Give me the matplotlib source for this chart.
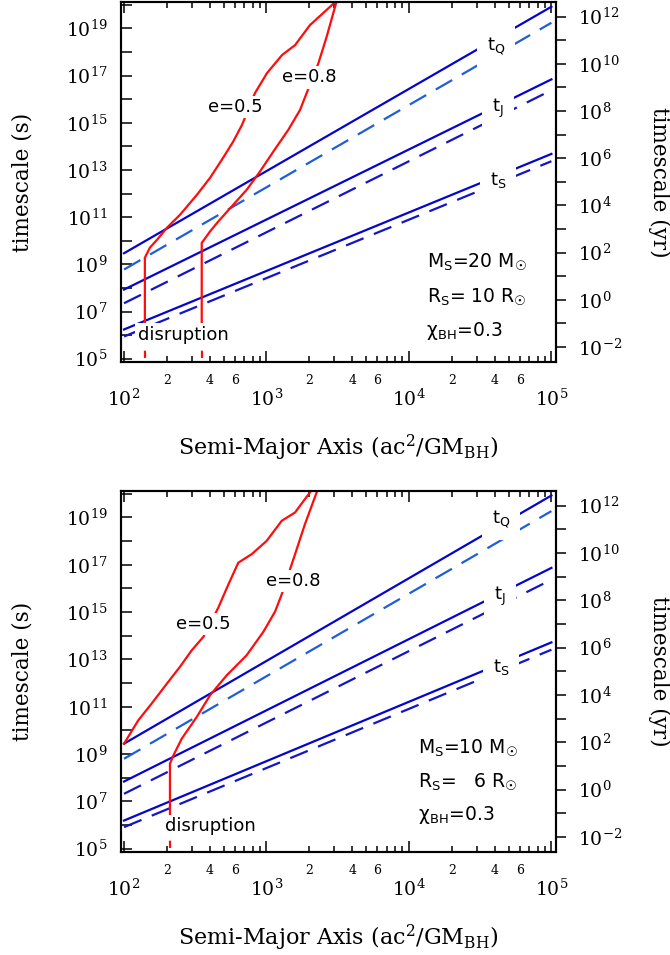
import numpy as np
import matplotlib.pyplot as plt
from matplotlib.ticker import FixedLocator, LogLocator, FuncFormatter, NullLocator

plt.rcParams['font.family'] = 'DejaVu Serif'
plt.rcParams['mathtext.fontset'] = 'dejavuserif'

SEC_PER_YR = 3.156e7

# semi-major axis range spanned by the timescale power laws
a_ends = [1e2, 1e5]

# log10 timescale (s) at a = 1e2 and a = 1e5 -- upper panel (M_S = 20 Msun)
top_tq = [9.47, 19.92]
top_tq_dash = [8.78, 19.24]
top_tj = [7.93, 16.84]
top_tj_dash = [7.35, 16.38]
top_ts = [6.24, 13.68]
top_ts_dash = [5.94, 13.37]

# lower panel (M_S = 10 Msun)
bot_tq = [9.44, 19.93]
bot_tq_dash = [8.80, 19.27]
bot_tj = [7.84, 16.87]
bot_tj_dash = [7.32, 16.37]
bot_ts = [6.19, 13.72]
bot_ts_dash = [5.91, 13.41]

# inspiral curves: semi-major axis and log10 timescale (s)
top_e05_a = [140, 140, 152, 171, 200, 247, 325, 402, 495, 582, 673, 830, 1009, 1285, 1585, 2018, 3027]
top_e05_t = [6.0, 9.28, 9.71, 10.05, 10.55, 11.10, 11.95, 12.67, 13.51, 14.19, 14.91, 16.26, 17.11, 17.87, 18.29, 19.14, 20.11]
top_e08_a = [351, 351, 402, 459, 585, 726, 899, 1117, 1422, 1718, 2312, 2642, 3076]
top_e08_t = [6.0, 9.905, 10.40, 10.82, 11.53, 12.16, 12.93, 13.78, 14.70, 15.54, 17.52, 18.64, 20.06]
top_disrupt = [140, 351]

bot_e05_a = [100, 126, 156, 200, 247, 299, 361, 459, 540, 634, 787, 1002, 1279, 1585, 2018]
bot_e05_t = [9.44, 10.43, 11.13, 11.98, 12.69, 13.39, 13.96, 15.19, 16.17, 17.09, 17.45, 18.01, 18.86, 19.21, 20.06]
bot_e08_a = [210, 210, 222, 254, 324, 402, 526, 726, 951, 1148, 1279, 1585, 1862, 2249]
bot_e08_t = [6.0, 8.59, 8.94, 9.65, 10.57, 11.49, 12.33, 13.18, 14.17, 15.02, 15.75, 17.44, 18.72, 20.06]
bot_disrupt = [210]
disrupt_span = [5.03, 6.0]

# label positions (log10 a, log10 t)
top_tlabels = [(4.61, 18.25), (4.625, 15.59), (4.625, 12.58)]
bot_tlabels = [(4.646, 18.92), (4.64, 15.65), (4.645, 12.69)]
tlabel_text = [r't$_\mathrm{Q}$', r't$_\mathrm{J}$', r't$_\mathrm{S}$']
top_elabels = [(2.779, 15.67), (3.302, 16.92)]
bot_elabels = [(2.558, 14.49), (3.186, 16.31)]
elabel_text = ['e=0.5', 'e=0.8']
top_disrupt_label = (2.098, 6.01)
bot_disrupt_label = (2.288, 5.95)

top_params = [r'M$_\mathrm{S}$=20 M$_\mathrm{☉}$', r'R$_\mathrm{S}$= 10 R$_\mathrm{☉}$', r'$\mathrm{χ}_\mathrm{BH}$=0.3']
bot_params = [r'M$_\mathrm{S}$=10 M$_\mathrm{☉}$', r'R$_\mathrm{S}$=   6 R$_\mathrm{☉}$', r'$\mathrm{χ}_\mathrm{BH}$=0.3']
top_params_pos = [(4.124, 8.85), (4.124, 7.39), (4.118, 5.98)]
bot_params_pos = [(4.065, 9.03), (4.065, 7.59), (4.060, 6.20)]

xlim = (95.2, 1.077e5)
ylim = (10**4.86, 10**20.12)

SOLID = '#0505cc'
DASH_Q = '#1f5ed8'
DASH = '#1414c8'
RED = '#ff0c0c'
DASHES = (0, (8.5, 5))
LW = 1.6


def sans_text(ax, x, y, s, size=13, **kw):
    return ax.text(x, y, s, family='DejaVu Sans', math_fontfamily='dejavusans',
                   fontsize=size, **kw)


def major_x(v, pos):
    return r'$10^{%d}$' % int(round(np.log10(v)))


def minor_x(v, pos):
    mant = v / 10 ** np.floor(np.log10(v) + 1e-9)
    m = int(round(mant))
    return str(m) if m in (2, 4, 6) else ''


def odd_decade(v, pos):
    e = int(round(np.log10(v)))
    return r'$10^{%d}$' % e if e % 2 else ''


def even_decade(v, pos):
    e = int(round(np.log10(v)))
    return '' if e % 2 else r'$10^{%d}$' % e


def draw_panel(ax, lines, e05, e08, disrupt, tlabels, elabels, dlabel, params, params_pos):
    ax.set_xscale('log')
    ax.set_yscale('log')

    tq, tq_d, tj, tj_d, ts, ts_d = lines
    ax.plot(a_ends, np.power(10.0, tq), color=SOLID, lw=LW)
    ax.plot(a_ends, np.power(10.0, tq_d), color=DASH_Q, lw=LW, ls=DASHES)
    ax.plot(a_ends, np.power(10.0, tj), color=SOLID, lw=LW)
    ax.plot(a_ends, np.power(10.0, tj_d), color=DASH, lw=LW, ls=DASHES)
    ax.plot(a_ends, np.power(10.0, ts), color=SOLID, lw=LW)
    ax.plot(a_ends, np.power(10.0, ts_d), color=DASH, lw=LW, ls=DASHES)

    for a_vals, t_vals in (e05, e08):
        ax.plot(a_vals, np.power(10.0, t_vals), color=RED, lw=LW)
    for a_d in disrupt:
        ax.plot([a_d, a_d], np.power(10.0, disrupt_span), color=RED, lw=LW, ls=(0, (3.3, 1.9)))

    # white boxes open gaps in the lines behind each label
    for (lx, ly), s in zip(tlabels, tlabel_text):
        sans_text(ax, 10**lx, 10**ly, s, ha='center', va='center', zorder=5,
                  bbox=dict(boxstyle='square,pad=0.55', fc='white', ec='none'))
    for (lx, ly), s in zip(elabels, elabel_text):
        sans_text(ax, 10**lx, 10**ly, s, ha='center', va='center', zorder=5,
                  bbox=dict(boxstyle='square,pad=0.12', fc='white', ec='none'))
    sans_text(ax, 10**dlabel[0], 10**dlabel[1], 'disruption', ha='left', va='center', zorder=5,
              bbox=dict(boxstyle='square,pad=0.15', fc='white', ec='none'))
    for (lx, ly), s in zip(params_pos, params):
        sans_text(ax, 10**lx, 10**ly, s, size=13.5, ha='left', va='baseline')

    ax.set_xlim(*xlim)
    ax.set_ylim(*ylim)

    ax.xaxis.set_major_locator(LogLocator(base=10, numticks=10))
    ax.xaxis.set_minor_locator(LogLocator(base=10, subs=np.arange(2, 10), numticks=30))
    ax.xaxis.set_major_formatter(FuncFormatter(major_x))
    ax.xaxis.set_minor_formatter(FuncFormatter(minor_x))
    ax.yaxis.set_major_locator(FixedLocator([10.0**k for k in range(4, 22)]))
    ax.yaxis.set_minor_locator(NullLocator())
    ax.yaxis.set_major_formatter(FuncFormatter(odd_decade))

    ax.tick_params(axis='x', which='both', direction='in', top=True, bottom=True, width=1.1)
    ax.tick_params(axis='x', which='major', length=8, pad=19.5, labelsize=13.5)
    ax.tick_params(axis='x', which='minor', length=4.5, pad=8.5, labelsize=9)
    ax.tick_params(axis='y', which='major', direction='in', left=True, right=False,
                   length=8, width=1.1, pad=9.5, labelsize=13.5)
    for sp in ax.spines.values():
        sp.set_linewidth(1.5)

    ax.set_xlabel(r'Semi-Major Axis (ac$^2$/GM$_\mathrm{BH}$)', fontsize=16)
    ax.xaxis.set_label_coords(0.5, -0.197)
    ax.set_ylabel('timescale (s)', fontsize=15.5)
    ax.yaxis.set_label_coords(-0.202, 0.5)

    ax2 = ax.twinx()
    ax2.set_yscale('log')
    ax2.set_ylim(ylim[0] / SEC_PER_YR, ylim[1] / SEC_PER_YR)
    ax2.yaxis.set_major_locator(FixedLocator([10.0**k for k in range(-4, 15)]))
    ax2.yaxis.set_minor_locator(NullLocator())
    ax2.yaxis.set_major_formatter(FuncFormatter(even_decade))
    ax2.tick_params(axis='y', which='major', direction='out', length=7, width=1.1,
                    pad=8.5, labelsize=13.5)
    for sp in ax2.spines.values():
        sp.set_linewidth(1.5)
    ax2.set_ylabel('timescale (yr)', rotation=270, va='bottom', fontsize=15.5)
    ax2.yaxis.set_label_coords(1.211, 0.5)


fig = plt.figure(figsize=(6.7, 9.55), dpi=100)
ax_top = fig.add_axes([121 / 670, 1 - 362 / 955, 435 / 670, 360 / 955])
ax_bot = fig.add_axes([121 / 670, 1 - 852 / 955, 435 / 670, 361 / 955])

draw_panel(ax_top,
           [top_tq, top_tq_dash, top_tj, top_tj_dash, top_ts, top_ts_dash],
           (top_e05_a, top_e05_t), (top_e08_a, top_e08_t), top_disrupt,
           top_tlabels, top_elabels, top_disrupt_label, top_params, top_params_pos)
draw_panel(ax_bot,
           [bot_tq, bot_tq_dash, bot_tj, bot_tj_dash, bot_ts, bot_ts_dash],
           (bot_e05_a, bot_e05_t), (bot_e08_a, bot_e08_t), bot_disrupt,
           bot_tlabels, bot_elabels, bot_disrupt_label, bot_params, bot_params_pos)

fig.savefig('out.png', dpi=100)
